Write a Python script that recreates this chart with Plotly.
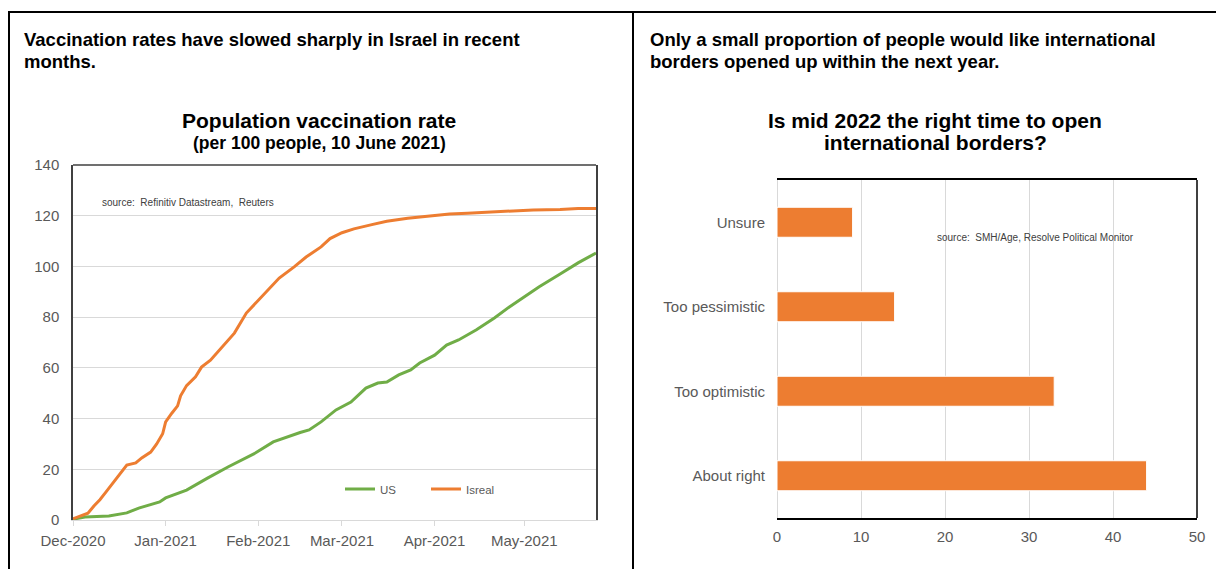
import plotly.graph_objects as go

W, H = 1216, 561
OFF = 8  # page body margin

# ---------------- data ----------------
israel_dates = ["2020-12-01", "2020-12-03", "2020-12-06", "2020-12-08", "2020-12-10", "2020-12-12",
                "2020-12-14", "2020-12-17", "2020-12-19", "2020-12-22", "2020-12-24", "2020-12-27",
                "2020-12-29", "2020-12-31", "2021-01-01", "2021-01-03", "2021-01-05", "2021-01-06",
                "2021-01-08", "2021-01-11", "2021-01-13", "2021-01-16", "2021-01-19", "2021-01-22",
                "2021-01-24", "2021-01-28", "2021-02-02", "2021-02-04", "2021-02-08", "2021-02-13",
                "2021-02-17", "2021-02-22", "2021-02-25", "2021-03-01", "2021-03-05", "2021-03-11",
                "2021-03-16", "2021-03-23", "2021-03-31", "2021-04-06", "2021-04-12", "2021-04-23",
                "2021-05-04", "2021-05-13", "2021-05-19", "2021-05-25"]
israel_values = [0.5, 1.5, 2.7, 5.5, 8.0, 11.0,
                 14.0, 18.5, 21.7, 22.5, 24.5, 26.8,
                 30.0, 34.0, 38.7, 42.0, 45.0, 49.0,
                 53.0, 56.5, 60.3, 63.0, 67.0, 71.0,
                 73.7, 81.6, 88.0, 90.7, 95.4, 99.8,
                 103.7, 107.7, 111.0, 113.3, 114.8, 116.5,
                 117.8, 119.0, 120.0, 120.7, 121.0, 121.7,
                 122.3, 122.5, 122.8, 122.8]

us_dates = ["2020-12-01", "2020-12-05", "2020-12-13", "2020-12-19", "2020-12-23", "2020-12-30",
            "2021-01-01", "2021-01-06", "2021-01-08", "2021-01-15", "2021-01-22", "2021-01-31",
            "2021-02-06", "2021-02-15", "2021-02-18", "2021-02-22", "2021-02-27", "2021-03-04",
            "2021-03-09", "2021-03-13", "2021-03-16", "2021-03-20", "2021-03-24", "2021-03-27",
            "2021-04-01", "2021-04-05", "2021-04-09", "2021-04-15", "2021-04-21", "2021-04-26",
            "2021-05-06", "2021-05-13", "2021-05-19", "2021-05-25"]
us_values = [0.3, 1.2, 1.6, 2.8, 4.7, 7.1,
             8.7, 11.0, 11.8, 16.5, 21.0, 26.4,
             30.8, 34.5, 35.5, 38.7, 43.4, 46.5,
             52.0, 54.0, 54.4, 57.2, 59.2, 61.9,
             65.0, 69.0, 71.0, 75.0, 79.7, 84.0,
             92.0, 97.0, 101.4, 105.3]

month_ticks = ["2020-12-01", "2021-01-01", "2021-02-01", "2021-03-01", "2021-04-01", "2021-05-01"]
month_labels = ["Dec-2020", "Jan-2021", "Feb-2021", "Mar-2021", "Apr-2021", "May-2021"]

border_categories = ["Unsure", "Too pessimistic", "Too optimistic", "About right"]
border_values = [9, 14, 33, 44]

# ---------------- styling ----------------
ORANGE = "#ED7D31"
GREEN = "#70AD47"
GRID = "#d9d9d9"
TICK = "#595959"
FONT = "Liberation Sans, Arial, sans-serif"


def px(x):
    return (x - OFF) / W


def py(y):
    return 1 - (y - OFF) / H


fig = go.Figure()

fig.add_trace(go.Scatter(x=us_dates, y=us_values, mode="lines", name="US",
                         line=dict(color=GREEN, width=3), xaxis="x", yaxis="y"))
fig.add_trace(go.Scatter(x=israel_dates, y=israel_values, mode="lines", name="Isreal",
                         line=dict(color=ORANGE, width=3), xaxis="x", yaxis="y"))

fig.add_trace(go.Bar(y=border_categories, x=border_values, orientation="h",
                     marker=dict(color=ORANGE, line=dict(color="white", width=1)),
                     showlegend=False, xaxis="x2", yaxis="y2"))

fig.update_layout(
    template="none",
    width=W, height=H,
    margin=dict(l=0, r=0, t=0, b=0, pad=0, autoexpand=False),
    paper_bgcolor="white", plot_bgcolor="white",
    font=dict(family=FONT, color=TICK),
    bargap=0.645,
    xaxis=dict(domain=[px(73), px(596)], type="date",
               range=["2020-12-01", "2021-05-25"], automargin=False,
               tickmode="array", tickvals=month_ticks, ticktext=month_labels,
               showgrid=False, showline=True, linecolor=GRID, linewidth=1,
               ticks="outside", ticklen=5, tickcolor=GRID, zeroline=False,
               ticklabelstandoff=2,
               tickfont=dict(size=15, color=TICK, family=FONT), anchor="y"),
    yaxis=dict(domain=[py(520), py(165)], range=[0, 140], dtick=20, automargin=False,
               showgrid=True, gridcolor=GRID, gridwidth=1, zeroline=False,
               showline=True, linecolor="#404040", linewidth=1.5, mirror=True,
               ticks="", ticklabelstandoff=9,
               tickfont=dict(size=15, color=TICK, family=FONT), anchor="x"),
    xaxis2=dict(domain=[px(777), px(1197)], range=[0, 50], dtick=10, automargin=False,
                showgrid=True, gridcolor=GRID, zeroline=True, zerolinecolor=GRID,
                showline=True, linecolor="#000000", linewidth=1.5, mirror=True,
                ticks="", ticklabelstandoff=4,
                tickfont=dict(size=15, color=TICK, family=FONT), anchor="y2"),
    yaxis2=dict(domain=[py(518), py(180)], type="category", automargin=False,
                categoryorder="array", categoryarray=border_categories,
                autorange="reversed", showgrid=False, showline=False, zeroline=False,
                ticks="", ticklabelstandoff=11,
                tickfont=dict(size=15, color=TICK, family=FONT), anchor="x2"),
    legend=dict(orientation="h", x=px(340), y=py(489), xanchor="left", yanchor="middle",
                bgcolor="rgba(0,0,0,0)", font=dict(size=11.5, color=TICK, family=FONT),
                entrywidth=41, entrywidthmode="pixels", tracegroupgap=0),
)

shapes = [
    dict(type="line", xref="paper", yref="paper", x0=px(8), x1=1, y0=py(12), y1=py(12),
         line=dict(color="black", width=2)),
    dict(type="line", xref="paper", yref="paper", x0=px(9), x1=px(9), y0=py(12), y1=0,
         line=dict(color="black", width=2)),
    dict(type="line", xref="paper", yref="paper", x0=px(633), x1=px(633), y0=py(12), y1=0,
         line=dict(color="black", width=2)),
    dict(type="line", xref="paper", yref="paper", x0=px(73), x1=px(596), y0=py(165), y1=py(165),
         line=dict(color="#404040", width=1.5)),
    dict(type="line", xref="paper", yref="paper", x0=px(1197), x1=px(1197), y0=py(518), y1=py(180),
         line=dict(color="black", width=1.5)),
]
fig.update_layout(shapes=shapes)


def note(text, x, y, size, color="black", xanchor="left", bold=False):
    if bold:
        text = "<b>" + text + "</b>"
    fig.add_annotation(text=text, xref="paper", yref="paper", x=px(x), y=py(y),
                       xanchor=xanchor, yanchor="middle", align="left", showarrow=False,
                       font=dict(size=size, color=color, family=FONT))


# panel headers
note("Vaccination rates have slowed sharply in Israel in recent", 22, 40, 18.5, bold=True)
note("months.", 22, 62, 18.5, bold=True)
note("Only a small proportion of people would like international", 648, 40, 18.5, bold=True)
note("borders opened up within the next year.", 648, 62, 18.5, bold=True)

# chart titles
note("Population vaccination rate", 319, 120, 21, xanchor="center", bold=True)
note("(per 100 people, 10 June 2021)", 319, 143, 17.5, xanchor="center", bold=True)
note("Is mid 2022 the right time to open", 935, 120, 21, xanchor="center", bold=True)
note("international borders?", 935, 143, 21, xanchor="center", bold=True)

# sources
note("source:  Refinitiv Datastream,  Reuters", 100, 202, 10, color="#404040")
note("source:  SMH/Age, Resolve Political Monitor", 935, 238, 10, color="#404040")

fig.write_html("out.html")
